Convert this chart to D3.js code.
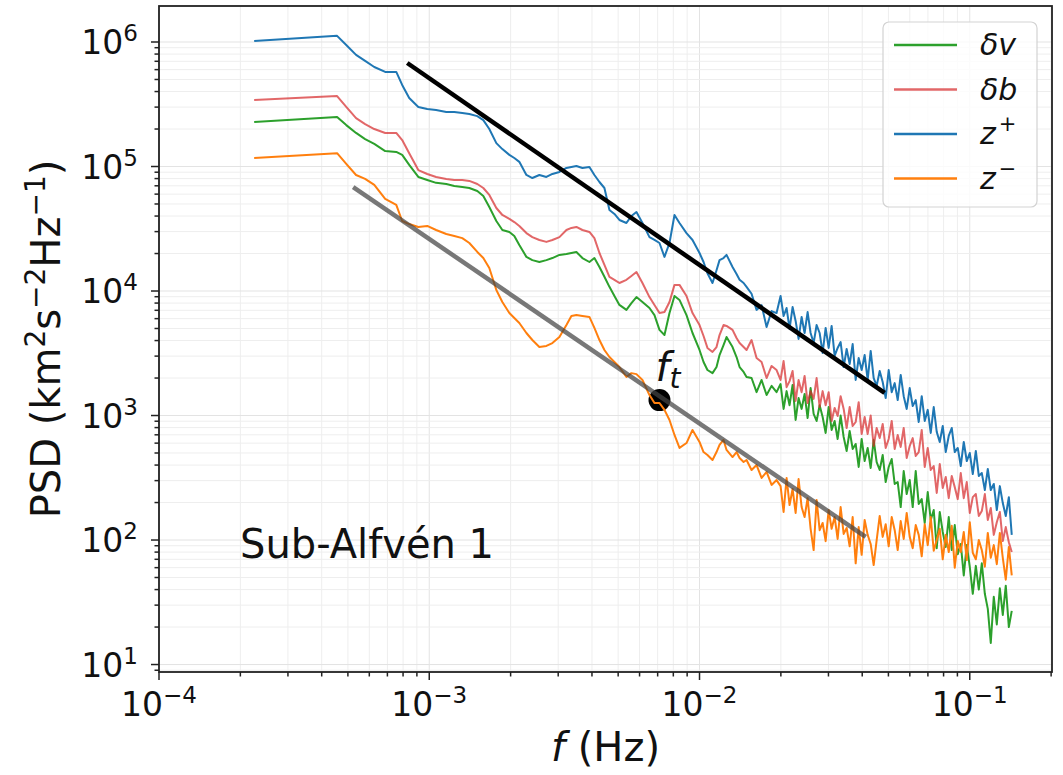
<!DOCTYPE html>
<html>
<head>
<meta charset="utf-8">
<script src="https://cdn.jsdelivr.net/npm/d3@7"></script>
<style>
  body { margin: 0; background: #fff; }
  text { font-family: "DejaVu Sans", sans-serif; fill: #111; }
</style>
</head>
<body>
<svg id="chart" width="1063" height="775"></svg>
<script>
// frequency grid (Hz)
const freq = [
  2.25e-4, 4.56e-4, 4.93e-4, 5.36e-4, 5.79e-4, 6.26e-4, 6.87e-4, 7.55e-4, 7.94e-4, 8.43e-4,
  9.11e-4, 9.83e-4, 1.06e-3, 1.156e-3, 1.238e-3, 1.325e-3, 1.407e-3, 1.506e-3, 1.585e-3, 1.668e-3,
  1.771e-3, 1.864e-3, 1.979e-3, 2.064e-3, 2.154e-3, 2.288e-3, 2.407e-3, 2.555e-3, 2.713e-3, 2.855e-3,
  3.031e-3, 3.218e-3, 3.357e-3, 3.503e-3, 3.687e-3, 3.914e-3, 4.084e-3, 4.263e-3, 4.448e-3, 4.642e-3,
  4.844e-3, 5.054e-3, 5.365e-3, 5.598e-3, 5.843e-3, 6.150e-3, 6.529e-3, 6.813e-3, 7.110e-3, 7.419e-3,
  7.743e-3, 8.080e-3, 8.432e-3, 8.951e-3, 9.421e-3, 1.000e-2, 1.035e-2, 1.070e-2, 1.117e-2, 1.156e-2,
  1.186e-2, 1.227e-2, 1.259e-2, 1.325e-2, 1.371e-2, 1.407e-2, 1.456e-2, 1.493e-2, 1.558e-2, 1.626e-2,
  1.697e-2, 1.771e-2, 1.848e-2, 1.928e-2,
  0.01995, 0.02047, 0.02100, 0.02154, 0.02210, 0.02268, 0.02326, 0.02387, 0.02448,
  0.02512, 0.02577, 0.02644, 0.02712, 0.02783, 0.02855, 0.02929, 0.03005, 0.03082,
  0.03162, 0.03244, 0.03328, 0.03415, 0.03503, 0.03594, 0.03687, 0.03783, 0.03881,
  0.03981, 0.04084, 0.04190, 0.04299, 0.04410, 0.04524, 0.04642, 0.04762, 0.04885,
  0.05012, 0.05142, 0.05275, 0.05412, 0.05552, 0.05696, 0.05843, 0.05995, 0.06150,
  0.06310, 0.06473, 0.06641, 0.06813, 0.06990, 0.07171, 0.07356, 0.07547, 0.07743,
  0.07943, 0.08149, 0.08360, 0.08577, 0.08799, 0.09027, 0.09261, 0.09501, 0.09747,
  0.1000, 0.1026, 0.1053, 0.1080, 0.1108, 0.1137, 0.1166, 0.1196, 0.1227,
  0.1259, 0.1292, 0.1325, 0.1359, 0.1395, 0.1430
]

// delta v
const dv = [
  2.28e5, 2.50e5, 2.15e5, 1.86e5, 1.66e5, 1.52e5, 1.33e5, 1.31e5, 1.24e5, 1.03e5,
  8.24e4, 7.80e4, 7.39e4, 7.24e4, 6.98e4, 6.85e4, 6.72e4, 6.36e4, 5.80e4, 4.73e4,
  3.65e4, 3.09e4, 2.98e4, 2.77e4, 2.34e4, 1.88e4, 1.77e4, 1.71e4, 1.77e4, 1.84e4,
  1.95e4, 1.98e4, 2.02e4, 2.06e4, 1.84e4, 1.71e4, 1.84e4, 1.56e4, 1.30e4, 1.08e4,
  9.12e3, 7.73e3, 7.05e3, 7.98e3, 8.94e3, 8.17e3, 7.30e3, 6.41e3, 4.87e3, 4.43e3,
  6.65e3, 9.12e3, 8.48e3, 6.41e3, 4.60e3, 3.36e3, 2.69e3, 2.32e3, 2.19e3, 2.45e3,
  3.06e3, 3.68e3, 4.27e3, 3.55e3, 2.95e3, 2.45e3, 2.24e3, 2.04e3, 2.00e3, 1.54e3,
  1.93e3, 1.46e3, 1.73e3, 1.54e3,
  1.79e3, 1.13e3, 1.57e3, 1.21e3, 1.76e3, 9.21e2, 1.38e3, 1.13e3, 1.49e3,
  9.55e2, 1.66e3, 1.03e3, 9.04e2, 1.21e3, 9.73e2, 7.24e2, 1.17e3, 7.66e2,
  9.04e2, 6.48e2, 1.00e3, 6.72e2, 5.19e2, 7.51e2, 5.39e2, 5.91e2, 3.86e2,
  6.48e2, 4.31e2, 5.49e2, 3.79e2, 6.36e2, 4.23e2, 3.65e2, 4.82e2, 2.92e2,
  3.86e2, 4.47e2, 2.82e2, 2.92e2, 1.84e2, 3.58e2, 2.34e2, 3.03e2, 1.84e2,
  3.58e2, 1.95e2, 2.13e2, 1.37e2, 2.43e2, 1.45e2, 1.74e2, 8.6e1, 1.68e2,
  1.16e2, 8.8e1, 1.53e2, 8.3e1, 1.32e2, 7.7e1, 9.3e1, 5.2e1, 9.1e1,
  6.1e1, 3.7e1, 6.2e1, 4.0e1, 6.5e1, 3.7e1, 2.8e1, 1.49e1, 3.5e1,
  2.1e1, 4.1e1, 2.5e1, 4.3e1, 2.0e1, 2.7e1
]

// delta b
const db = [
  3.42e5, 3.68e5, 3.01e5, 2.45e5, 2.19e5, 2.00e5, 1.86e5, 1.86e5, 1.63e5, 1.28e5,
  9.36e4, 8.71e4, 8.24e4, 7.95e4, 7.80e4, 7.80e4, 7.66e4, 7.24e4, 6.72e4, 5.91e4,
  4.64e4, 4.08e4, 3.79e4, 3.58e4, 3.33e4, 2.92e4, 2.71e4, 2.57e4, 2.48e4, 2.57e4,
  2.71e4, 3.09e4, 3.21e4, 3.27e4, 3.09e4, 2.98e4, 2.66e4, 2.02e4, 1.62e4, 1.30e4,
  1.23e4, 1.16e4, 1.23e4, 1.32e4, 1.42e4, 1.16e4, 8.94e3, 7.73e3, 6.65e3, 6.78e3,
  8.17e3, 1.12e4, 1.12e4, 9.12e3, 6.65e3, 5.33e3, 4.35e3, 3.49e3, 3.24e3, 3.55e3,
  4.43e3, 5.33e3, 5.24e3, 4.87e3, 4.19e3, 3.82e3, 3.55e3, 3.36e3, 4.04e3, 2.90e3,
  2.69e3, 2.00e3, 2.50e3, 2.32e3,
  1.93e3, 2.74e3, 1.69e3, 1.89e3, 2.28e3, 1.31e3, 1.93e3, 1.54e3, 2.08e3,
  1.26e3, 1.57e3, 1.36e3, 2.00e3, 1.17e3, 1.57e3, 1.21e3, 1.54e3, 9.04e2,
  1.15e3, 9.91e2, 1.43e3, 1.13e3, 7.94e2, 1.17e3, 8.24e2, 8.87e2, 1.28e3,
  7.11e2, 9.73e2, 7.11e2, 1.00e3, 5.69e2, 7.94e2, 6.59e2, 8.55e2, 5.49e2,
  6.48e2, 9.04e2, 5.39e2, 6.98e2, 5.59e2, 7.94e2, 4.56e2, 5.69e2, 6.59e2,
  4.73e2, 5.09e2, 7.66e2, 3.86e2, 5.49e2, 3.65e2, 3.93e2, 2.39e2, 4.08e2,
  2.62e2, 3.21e2, 2.17e2, 3.27e2, 2.66e2, 2.13e2, 3.45e2, 2.17e2, 2.92e2,
  1.65e2, 2.21e2, 2.34e2, 1.56e2, 1.71e2, 2.34e2, 1.45e2, 1.81e2, 1.10e2,
  1.39e2, 1.68e2, 9.8e1, 1.27e2, 9.6e1, 8.0e1
]

// z+
const zp = [
  1.02e6, 1.12e6, 9.45e5, 7.88e5, 7.05e5, 6.30e5, 5.75e5, 5.75e5, 4.52e5, 3.55e5,
  3.01e5, 2.90e5, 2.84e5, 2.74e5, 2.74e5, 2.69e5, 2.64e5, 2.54e5, 2.36e5, 2.00e5,
  1.54e5, 1.38e5, 1.24e5, 1.17e5, 1.09e5, 8.55e4, 8.08e4, 8.55e4, 8.24e4, 8.71e4,
  9.04e4, 9.73e4, 9.91e4, 1.01e5, 9.73e4, 9.91e4, 8.55e4, 7.51e4, 6.72e4, 4.47e4,
  4.16e4, 3.72e4, 3.52e4, 4.01e4, 4.31e4, 3.52e4, 2.71e4, 2.57e4, 2.43e4, 1.88e4,
  2.43e4, 4.08e4, 3.52e4, 2.92e4, 2.57e4, 2.02e4, 1.71e4, 1.39e4, 1.16e4, 1.47e4,
  1.77e4, 1.84e4, 1.95e4, 1.56e4, 1.37e4, 1.23e4, 1.16e4, 1.08e4, 9.5e3, 7.05e3,
  7.7e3, 5.14e3, 6.9e3, 6.65e3,
  9.12e3, 6.30e3, 7.30e3, 4.96e3, 7.43e3, 5.75e3, 4.12e3, 6.19e3, 4.60e3,
  6.78e3, 4.60e3, 3.82e3, 5.33e3, 4.60e3, 3.18e3, 5.05e3, 3.49e3, 5.24e3,
  3.01e3, 3.49e3, 3.89e3, 2.45e3, 3.42e3, 2.59e3, 3.75e3, 1.93e3, 2.90e3,
  2.32e3, 3.06e3, 1.93e3, 3.30e3, 2.00e3, 1.73e3, 2.28e3, 1.86e3, 1.38e3,
  2.32e3, 1.54e3, 1.82e3, 1.33e3, 2.12e3, 1.43e3, 1.13e3, 1.66e3, 1.19e3,
  1.33e3, 8.87e2, 1.43e3, 9.04e2, 1.11e3, 7.24e2, 1.17e3, 7.39e2, 6.13e2,
  8.24e2, 5.09e2, 6.85e2, 7.94e2, 5.09e2, 5.49e2, 3.93e2, 6.13e2, 4.31e2,
  5.0e2, 3.39e2, 5.19e2, 3.27e2, 3.45e2, 2.52e2, 3.72e2, 2.52e2, 2.82e2,
  1.74e2, 2.71e2, 1.98e2, 1.56e2, 2.21e2, 1.10e2
]

// z-
const zm = [
  1.17e5, 1.28e5, 1.05e5, 8.55e4, 7.95e4, 7.11e4, 5.49e4, 4.91e4, 3.65e4, 3.45e4,
  3.27e4, 3.33e4, 3.09e4, 2.87e4, 2.77e4, 2.66e4, 2.43e4, 2.06e4, 1.84e4, 1.53e4,
  1.02e4, 8.17e3, 6.65e3, 6.07e3, 5.53e3, 4.60e3, 4.04e3, 3.55e3, 3.62e3, 3.82e3,
  4.27e3, 5.33e3, 6.30e3, 6.41e3, 6.30e3, 6.19e3, 5.05e3, 4.04e3, 3.36e3, 2.95e3,
  2.69e3, 2.45e3, 2.04e3, 2.19e3, 2.15e3, 1.93e3, 1.46e3, 1.26e3, 1.26e3, 1.11e3,
  9.21e2, 6.98e2, 5.49e2, 6.01e2, 7.66e2, 6.13e2, 5.09e2, 4.82e2, 4.39e2, 5.09e2,
  5.80e2, 6.36e2, 5.29e2, 4.64e2, 5.09e2, 4.56e2, 4.23e2, 4.39e2, 3.65e2, 4.00e2,
  3.15e2, 3.52e2, 2.77e2, 3.03e2,
  2.71e2, 1.68e2, 3.15e2, 1.91e2, 2.57e2, 1.65e2, 3.09e2, 1.84e2, 1.53e2,
  2.17e2, 1.23e2, 8.3e1, 2.10e2, 1.20e2, 1.37e2, 9.8e1, 1.74e2, 1.23e2,
  1.53e2, 1.02e2, 1.84e2, 1.12e2, 1.25e2, 8.9e1, 1.53e2, 6.5e1, 1.27e2,
  7.6e1, 1.45e2, 1.10e2, 9.3e1, 6.3e1, 1.00e2, 1.56e2, 1.06e2, 1.34e2,
  8.9e1, 1.53e2, 1.20e2, 8.3e1, 1.42e2, 1.02e2, 1.65e2, 1.06e2, 8.6e1,
  1.32e2, 1.10e2, 7.4e1, 1.34e2, 9.1e1, 1.53e2, 8.2e1, 1.00e2, 1.23e2,
  7.0e1, 1.10e2, 8.0e1, 1.30e2, 6.0e1, 9.8e1, 8.0e1, 1.16e2, 6.9e1,
  1.39e2, 7.9e1, 7.0e1, 1.00e2, 8.3e1, 6.1e1, 1.14e2, 7.2e1, 9.1e1,
  6.4e1, 1.14e2, 7.2e1, 4.8e1, 8.8e1, 5.2e1
]

// power law fits (f, PSD) end points, and the transition point
const fitUpperF = [8.29e-4, 4.84e-2], fitUpperP = [6.78e5, 1.52e3]
const fitLowerF = [5.23e-4, 4.12e-2], fitLowerP = [6.84e4, 1.06e2]
const ftF = 7.11e-3, ftP = 1.33e3

const xTickExp = [-4, -3, -2, -1]
const yTickExp = [1, 2, 3, 4, 5, 6]

const series = [
  { name: "v", values: dv, color: "#2ca02c", opacity: 1 },
  { name: "b", values: db, color: "#d62728", opacity: 0.7 },
  { name: "z+", values: zp, color: "#1f77b4", opacity: 1 },
  { name: "z-", values: zm, color: "#ff7f0e", opacity: 1 }
]

const pLeft = 159, pRight = 1052, pTop = 6, pBottom = 672

const x = d3.scaleLog().domain([1e-4, 0.2015]).range([pLeft, pRight])
const y = d3.scaleLog().domain([8.71, 1.946e6]).range([pBottom, pTop])

const svg = d3.select("#chart")

svg.append("defs").append("clipPath").attr("id", "plotclip")
  .append("rect").attr("x", pLeft).attr("y", pTop).attr("width", pRight - pLeft).attr("height", pBottom - pTop)

// minor/major tick values
function logTicks(lo, hi, e0, e1) {
  let out = []
  for (let e = e0; e <= e1; e++) {
    for (let m = 1; m <= 9; m++) {
      let v = m * Math.pow(10, e)
      if (v >= lo && v <= hi) out.push({ v: v, major: m == 1 })
    }
  }
  return out
}
const xt = logTicks(1e-4, 0.2015, -4, -1)
const yt = logTicks(8.71, 1.946e6, 0, 6)

// grid
const grid = svg.append("g")
grid.selectAll(".gx").data(xt).join("line")
  .attr("x1", d => x(d.v)).attr("x2", d => x(d.v))
  .attr("y1", pTop).attr("y2", pBottom)
  .attr("stroke", d => d.major ? "#e3e3e3" : "#eeeeee").attr("stroke-width", 1)
grid.selectAll(".gy").data(yt).join("line")
  .attr("x1", pLeft).attr("x2", pRight)
  .attr("y1", d => y(d.v)).attr("y2", d => y(d.v))
  .attr("stroke", d => d.major ? "#e3e3e3" : "#eeeeee").attr("stroke-width", 1)

const plot = svg.append("g").attr("clip-path", "url(#plotclip)")

// transition marker under the lines
plot.append("circle")
  .attr("cx", x(ftF)).attr("cy", y(ftP)).attr("r", 11)
  .attr("fill", "#000")

const line = d3.line().x(d => x(d[0])).y(d => y(d[1]))

series.forEach(function(s){
  plot.append("path")
    .datum(freq.map((f, i) => [f, s.values[i]]))
    .attr("d", line)
    .attr("fill", "none")
    .attr("stroke", s.color)
    .attr("stroke-opacity", s.opacity)
    .attr("stroke-width", 2)
    .attr("stroke-linejoin", "round")
})

plot.append("path")
  .datum(fitUpperF.map((f, i) => [f, fitUpperP[i]]))
  .attr("d", line).attr("fill", "none")
  .attr("stroke", "#000").attr("stroke-width", 4.5)

plot.append("path")
  .datum(fitLowerF.map((f, i) => [f, fitLowerP[i]]))
  .attr("d", line).attr("fill", "none")
  .attr("stroke", "#444").attr("stroke-opacity", 0.72).attr("stroke-width", 4.5)

// f_t label
const ftLabel = svg.append("text")
  .attr("x", x(ftF) - 4).attr("y", y(ftP) - 19)
  .attr("font-size", 40)
ftLabel.append("tspan").attr("font-style", "italic").text("f")
ftLabel.append("tspan").attr("font-style", "italic").attr("font-size", 28).attr("dy", 7).text("t")

// axes ticks
const axes = svg.append("g")
axes.selectAll(".tx").data(xt).join("line")
  .attr("x1", d => x(d.v)).attr("x2", d => x(d.v))
  .attr("y1", pBottom).attr("y2", d => pBottom + (d.major ? 8 : 4.5))
  .attr("stroke", "#222").attr("stroke-width", 1.5)
axes.selectAll(".ty").data(yt).join("line")
  .attr("y1", d => y(d.v)).attr("y2", d => y(d.v))
  .attr("x1", pLeft).attr("x2", d => pLeft - (d.major ? 8 : 4.5))
  .attr("stroke", "#222").attr("stroke-width", 1.5)

// frame
svg.append("rect")
  .attr("x", pLeft).attr("y", pTop).attr("width", pRight - pLeft).attr("height", pBottom - pTop)
  .attr("fill", "none").attr("stroke", "#222").attr("stroke-width", 1.8)

// tick labels
xTickExp.forEach(function(e){
  let t = svg.append("text")
    .attr("x", x(Math.pow(10, e))).attr("y", 716)
    .attr("text-anchor", "middle").attr("font-size", 33)
  t.append("tspan").text("10")
  t.append("tspan").attr("font-size", 23).attr("dy", -13).text("\u2212" + Math.abs(e))
})
yTickExp.forEach(function(e){
  let t = svg.append("text")
    .attr("x", 138).attr("y", y(Math.pow(10, e)) + 12)
    .attr("text-anchor", "end").attr("font-size", 33)
  t.append("tspan").text("10")
  t.append("tspan").attr("font-size", 23).attr("dy", -13).text(e)
})

// axis labels
const xl = svg.append("text")
  .attr("x", (pLeft + pRight) / 2).attr("y", 761)
  .attr("text-anchor", "middle").attr("font-size", 40)
xl.append("tspan").attr("font-style", "italic").text("f")
xl.append("tspan").text(" (Hz)")

const yl = svg.append("text")
  .attr("transform", "translate(60," + ((pTop + pBottom) / 2) + ") rotate(-90)")
  .attr("text-anchor", "middle").attr("font-size", 40)
yl.append("tspan").text("PSD (km")
yl.append("tspan").attr("font-size", 28).attr("dy", -15).text("2")
yl.append("tspan").attr("dy", 15).text("s")
yl.append("tspan").attr("font-size", 28).attr("dy", -15).text("\u22122")
yl.append("tspan").attr("dy", 15).text("Hz")
yl.append("tspan").attr("font-size", 28).attr("dy", -15).text("\u22121")
yl.append("tspan").attr("dy", 15).text(")")

// annotation
svg.append("text")
  .attr("x", 240).attr("y", 558).attr("font-size", 40)
  .text("Sub-Alfvén 1")

// legend
const legend = svg.append("g")
legend.append("rect")
  .attr("x", 883).attr("y", 22).attr("width", 154).attr("height", 185).attr("rx", 6)
  .attr("fill", "#fff").attr("fill-opacity", 0.8)
  .attr("stroke", "#d3d3d3").attr("stroke-width", 1.2)

const rowY = [45, 89.5, 134, 178.5]
series.forEach(function(s, i){
  legend.append("line")
    .attr("x1", 894).attr("x2", 957).attr("y1", rowY[i]).attr("y2", rowY[i])
    .attr("stroke", s.color).attr("stroke-opacity", s.opacity).attr("stroke-width", 2.5)
  let t = legend.append("text").attr("x", 980).attr("y", rowY[i] + 10).attr("font-size", 30)
  if (s.name == "v" || s.name == "b") {
    t.append("tspan").attr("font-style", "italic").text("\u03b4" + s.name)
  } else {
    t.append("tspan").attr("font-style", "italic").text("z")
    t.append("tspan").attr("font-size", 21).attr("dy", -13).attr("dx", 3)
      .text(s.name == "z+" ? "+" : "\u2212")
  }
})
</script>
</body>
</html>
